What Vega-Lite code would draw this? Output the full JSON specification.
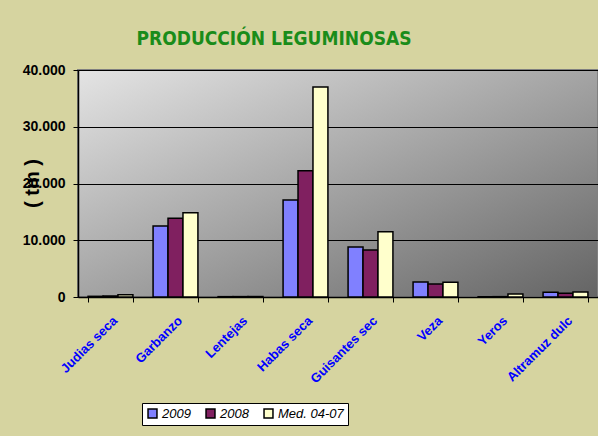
{
  "$schema": "https://vega.github.io/schema/vega-lite/v6.json",
  "width": 520,
  "height": 227,
  "autosize": {"type": "none"},
  "padding": {"left": 78, "top": 70, "right": 0, "bottom": 139},
  "background": "#d6d4a0",
  "title": {
    "text": "PRODUCCIÓN LEGUMINOSAS",
    "font": "Liberation Sans Narrow, DejaVu Sans Condensed, Arial Narrow, sans-serif",
    "fontSize": 19,
    "fontWeight": "bold",
    "color": "#1a8c1a",
    "anchor": "middle",
    "dx": -64,
    "offset": 14
  },
  "data": {
    "values": [
      {"cultivo": "Judias seca", "serie": "2009", "valor": 120},
      {"cultivo": "Judias seca", "serie": "2008", "valor": 180},
      {"cultivo": "Judias seca", "serie": "Med. 04-07", "valor": 380},
      {"cultivo": "Garbanzo", "serie": "2009", "valor": 12500},
      {"cultivo": "Garbanzo", "serie": "2008", "valor": 13870},
      {"cultivo": "Garbanzo", "serie": "Med. 04-07", "valor": 14850},
      {"cultivo": "Lentejas", "serie": "2009", "valor": 60},
      {"cultivo": "Lentejas", "serie": "2008", "valor": 70},
      {"cultivo": "Lentejas", "serie": "Med. 04-07", "valor": 80},
      {"cultivo": "Habas seca", "serie": "2009", "valor": 17100},
      {"cultivo": "Habas seca", "serie": "2008", "valor": 22250},
      {"cultivo": "Habas seca", "serie": "Med. 04-07", "valor": 37000},
      {"cultivo": "Guisantes sec", "serie": "2009", "valor": 8800},
      {"cultivo": "Guisantes sec", "serie": "2008", "valor": 8280},
      {"cultivo": "Guisantes sec", "serie": "Med. 04-07", "valor": 11500},
      {"cultivo": "Veza", "serie": "2009", "valor": 2640},
      {"cultivo": "Veza", "serie": "2008", "valor": 2290},
      {"cultivo": "Veza", "serie": "Med. 04-07", "valor": 2590},
      {"cultivo": "Yeros", "serie": "2009", "valor": 40},
      {"cultivo": "Yeros", "serie": "2008", "valor": 60},
      {"cultivo": "Yeros", "serie": "Med. 04-07", "valor": 520},
      {"cultivo": "Altramuz dulc", "serie": "2009", "valor": 830},
      {"cultivo": "Altramuz dulc", "serie": "2008", "valor": 650},
      {"cultivo": "Altramuz dulc", "serie": "Med. 04-07", "valor": 880}
    ]
  },
  "mark": {"type": "bar", "stroke": "#000000", "strokeWidth": 1.5},
  "encoding": {
    "x": {
      "field": "cultivo",
      "type": "nominal",
      "sort": null,
      "scale": {"paddingInner": 0.31, "paddingOuter": 0.155},
      "axis": {
        "title": null,
        "labelAngle": -45,
        "labelColor": "#0000ff",
        "labelFont": "Liberation Sans, Arial, sans-serif",
        "labelFontSize": 13,
        "labelFontWeight": "bold",
        "labelPadding": 12,
        "tickBand": "extent",
        "tickColor": "#000000",
        "tickSize": 5,
        "domainColor": "#000000",
        "domainWidth": 1.5
      }
    },
    "xOffset": {"field": "serie", "type": "nominal", "sort": ["2009", "2008", "Med. 04-07"]},
    "y": {
      "field": "valor",
      "type": "quantitative",
      "scale": {"domain": [0, 40000]},
      "axis": {
        "title": "( tm )",
        "titleFont": "Liberation Sans, Arial, sans-serif",
        "titleFontSize": 20,
        "titleFontWeight": "bold",
        "titleColor": "#000000",
        "titleAngle": -90,
        "titleX": -46,
        "titleY": 113,
        "titleAlign": "center",
        "titleBaseline": "middle",
        "values": [0, 10000, 20000, 30000, 40000],
        "labelExpr": "replace(format(datum.value, ','), ',', '.')",
        "labelFont": "Liberation Sans, Arial, sans-serif",
        "labelFontSize": 14,
        "labelFontWeight": "bold",
        "labelColor": "#000000",
        "labelPadding": 8,
        "tickColor": "#000000",
        "tickSize": 5,
        "domainColor": "#000000",
        "domainWidth": 1.5,
        "grid": true,
        "gridColor": "#000000",
        "gridWidth": 1
      }
    },
    "color": {
      "field": "serie",
      "type": "nominal",
      "sort": ["2009", "2008", "Med. 04-07"],
      "scale": {"domain": ["2009", "2008", "Med. 04-07"], "range": ["#8080ff", "#802060", "#ffffcc"]},
      "legend": {
        "title": null,
        "orient": "none",
        "direction": "horizontal",
        "legendX": 64,
        "legendY": 333,
        "fillColor": "#ffffff",
        "strokeColor": "#000000",
        "padding": 4,
        "symbolType": "square",
        "symbolSize": 80,
        "symbolStrokeColor": "#000000",
        "symbolStrokeWidth": 1.5,
        "labelFont": "Liberation Sans, Arial, sans-serif",
        "labelFontSize": 13,
        "labelFontStyle": "italic",
        "labelColor": "#000000",
        "columnPadding": 12,
        "labelOffset": 3
      }
    }
  },
  "config": {
    "view": {
      "fill": {
        "gradient": "linear",
        "x1": 0, "y1": 0, "x2": 1, "y2": 1,
        "stops": [
          {"offset": 0, "color": "#e4e4e4"},
          {"offset": 1, "color": "#646464"}
        ]
      },
      "stroke": "#808080",
      "strokeWidth": 2
    }
  }
}
